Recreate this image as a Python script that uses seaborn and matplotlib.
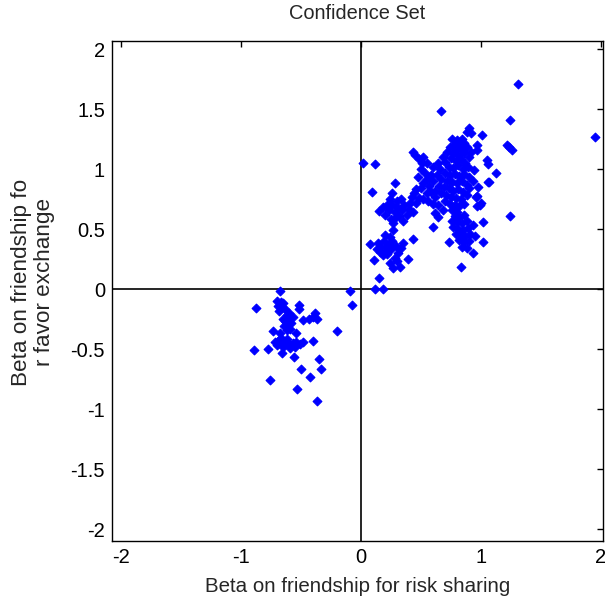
import numpy as np
import pandas as pd
import matplotlib
matplotlib.use("Agg")
import matplotlib.pyplot as plt
import seaborn as sns

# ---- data (beta risk sharing, beta favor exchange) ----
neg_x = [-0.675, -0.09, -0.075, -0.875, -0.70, -0.67, -0.69, -0.66, -0.63, -0.65, -0.68,
         -0.52, -0.52, -0.38, -0.37, -0.43, -0.48, -0.40,
         -0.62, -0.60, -0.63, -0.58, -0.61, -0.64, -0.59, -0.62, -0.57, -0.65, -0.60,
         -0.73, -0.54, -0.20, -0.675,
         -0.72, -0.69, -0.66, -0.63, -0.60, -0.57, -0.54, -0.51, -0.70, -0.65, -0.59, -0.55, -0.67, -0.62,
         -0.48, -0.40, -0.89, -0.775, -0.66, -0.56, -0.35, -0.50, -0.33, -0.425, -0.76, -0.53, -0.37]
neg_y = [-0.02, -0.02, -0.13, -0.16, -0.10, -0.11, -0.14, -0.15, -0.17, -0.12, -0.18,
         -0.13, -0.17, -0.20, -0.25, -0.25, -0.26, -0.23,
         -0.22, -0.25, -0.27, -0.28, -0.30, -0.31, -0.33, -0.34, -0.23, -0.25, -0.20,
         -0.35, -0.37, -0.35, -0.37,
         -0.44, -0.43, -0.45, -0.44, -0.46, -0.45, -0.44, -0.46, -0.47, -0.48, -0.49, -0.48, -0.41, -0.42,
         -0.44, -0.43, -0.51, -0.50, -0.53, -0.57, -0.58, -0.67, -0.67, -0.73, -0.76, -0.83, -0.93]

low_x = [0.15, 0.12, 0.18, 0.11, 0.075, 0.27, 0.43, 0.39, 0.27, 0.325, 0.215,
         0.14, 0.17, 0.19, 0.20, 0.23, 0.25, 0.18, 0.22, 0.26, 0.29, 0.31, 0.24, 0.16,
         0.28, 0.33, 0.13, 0.20, 0.30, 0.24, 0.35]
low_y = [0.09, 0.00, 0.00, 0.24, 0.375, 0.49, 0.42, 0.25, 0.175, 0.18, 0.35,
         0.38, 0.35, 0.40, 0.31, 0.37, 0.33, 0.28, 0.29, 0.40, 0.36, 0.30, 0.43, 0.31,
         0.26, 0.34, 0.33, 0.45, 0.23, 0.22, 0.38]

mid_x = [0.02, 0.12, 0.09, 0.28, 0.26, 0.15, 0.43,
         0.20, 0.23, 0.26, 0.28, 0.30, 0.32, 0.34, 0.30, 0.36, 0.25, 0.38, 0.22, 0.33,
         0.29, 0.40, 0.18, 0.27, 0.35, 0.24]
mid_y = [1.05, 1.04, 0.81, 0.88, 0.80, 0.65, 0.64,
         0.62, 0.66, 0.70, 0.64, 0.68, 0.61, 0.66, 0.73, 0.70, 0.58, 0.62, 0.70, 0.75,
         0.60, 0.67, 0.68, 0.55, 0.57, 0.75]

spr_x = [0.67, 0.90, 1.01, 1.31, 1.24, 1.95, 1.22, 1.23, 1.26, 1.24, 0.83,
         0.43, 0.45, 0.52, 0.51, 0.475, 0.425, 0.41, 0.60, 0.64, 0.73, 0.93, 1.02, 1.02,
         0.97, 1.00, 0.975, 0.97, 1.06, 1.125, 1.05, 1.06, 0.94, 0.97, 0.97, 0.88, 0.92,
         0.96, 0.99, 1.07]
spr_y = [1.48, 1.34, 1.28, 1.71, 1.41, 1.27, 1.20, 1.18, 1.16, 0.61, 0.18,
         1.14, 1.12, 1.10, 1.05, 0.93, 0.77, 0.72, 0.52, 0.60, 0.39, 0.30, 0.39, 0.56,
         0.69, 0.72, 0.85, 0.775, 0.89, 0.97, 1.075, 1.04, 0.99, 1.16, 1.20, 1.31, 1.30,
         0.77, 0.70, 0.89]

core_x = [0.76, 0.80, 0.84, 0.78, 0.82, 0.86, 0.74, 0.79, 0.84, 0.88, 0.72, 0.77, 0.81, 0.86,
          0.90, 0.75, 0.79, 0.83, 0.87, 0.70, 0.73, 0.77, 0.81, 0.85, 0.89, 0.68, 0.92, 0.66,
          0.70, 0.74, 0.78, 0.82, 0.86, 0.90, 0.67, 0.72, 0.76, 0.80, 0.84, 0.88, 0.65, 0.69,
          0.73, 0.77, 0.81, 0.85, 0.62, 0.67, 0.71, 0.75, 0.79, 0.83, 0.88, 0.70, 0.74, 0.78,
          0.82, 0.86, 0.76, 0.80, 0.90, 0.93,
          0.78, 0.82, 0.86, 0.80, 0.84, 0.88, 0.77, 0.81, 0.85, 0.89, 0.93, 0.79, 0.83, 0.87,
          0.91, 0.82, 0.86, 0.90, 0.84, 0.88, 0.95, 0.76]
core_y = [1.25, 1.24, 1.25, 1.21, 1.20, 1.22, 1.18, 1.17, 1.16, 1.18, 1.14, 1.13, 1.12, 1.13,
          1.10, 1.09, 1.07, 1.08, 1.05, 1.06, 1.02, 1.01, 1.03, 1.00, 1.02, 1.10, 1.14, 1.00,
          0.97, 0.95, 0.96, 0.94, 0.96, 0.93, 0.92, 0.90, 0.89, 0.88, 0.90, 0.87, 0.86, 0.85,
          0.84, 0.82, 0.83, 0.81, 0.82, 0.80, 0.78, 0.77, 0.76, 0.75, 0.78, 0.73, 0.71, 0.70,
          0.69, 0.71, 0.66, 0.64, 0.84, 0.90,
          0.61, 0.60, 0.62, 0.56, 0.55, 0.57, 0.52, 0.50, 0.49, 0.51, 0.53, 0.46, 0.45, 0.44,
          0.46, 0.41, 0.39, 0.40, 0.35, 0.34, 0.44, 0.57]

arm_x = [0.48, 0.50, 0.53, 0.55, 0.52, 0.57, 0.60, 0.58, 0.62, 0.55, 0.50, 0.46, 0.44,
         0.48, 0.52, 0.56, 0.60, 0.64, 0.46, 0.58, 0.63, 0.60, 0.55, 0.64, 0.62, 0.68]
arm_y = [1.08, 1.00, 0.97, 0.92, 0.88, 0.86, 0.90, 0.81, 0.77, 0.80, 0.84, 0.83, 0.80,
         0.76, 0.75, 0.73, 0.71, 0.70, 0.72, 0.95, 0.95, 1.02, 1.05, 1.05, 0.63, 0.66]

x_ticks = [-2, -1, 0, 1, 2]
y_ticks = [-2, -1.5, -1, -0.5, 0, 0.5, 1, 1.5, 2]

df = pd.DataFrame({
    "bx": neg_x + low_x + mid_x + spr_x + core_x + arm_x,
    "by": neg_y + low_y + mid_y + spr_y + core_y + arm_y,
})

sns.set_style("white")
plt.rcParams["font.family"] = ["Liberation Sans", "DejaVu Sans"]

fig = plt.figure(figsize=(6.05, 6.01), dpi=100)
ax = fig.add_axes([112 / 605, 1 - 541 / 601, 491 / 605, 500 / 601])

ax.axhline(0, color="black", lw=1.2, zorder=1)
ax.axvline(0, color="black", lw=1.2, zorder=1)

sns.scatterplot(data=df, x="bx", y="by", ax=ax, marker="D", s=20,
                color=(0, 0, 1), edgecolor=(0, 0, 1), linewidth=0.8, zorder=3)

ax.set_xlim(-2.075, 2.017)
ax.set_ylim(-2.1, 2.067)
ax.set_xticks(x_ticks)
ax.set_xticklabels([f"{t:g}" for t in x_ticks])
ax.set_yticks(y_ticks)
ax.set_yticklabels([f"{t:g}" for t in y_ticks])
ax.tick_params(direction="in", length=4, width=1, top=True, right=True,
               labelsize=14.5, colors="black", pad=5)
for sp in ax.spines.values():
    sp.set_visible(True)
    sp.set_color("black")
    sp.set_linewidth(1.0)

ax.set_title("Confidence Set", fontsize=14.4, pad=16)
ax.set_xlabel("Beta on friendship for risk sharing", fontsize=14.8, labelpad=7)
ax.set_ylabel("Beta on friendship fo\nr favor exchange", fontsize=16.2,
              linespacing=1.1)
ax.yaxis.set_label_coords(-0.116, 0.518)

fig.savefig("out.png", dpi=100, facecolor="white")
